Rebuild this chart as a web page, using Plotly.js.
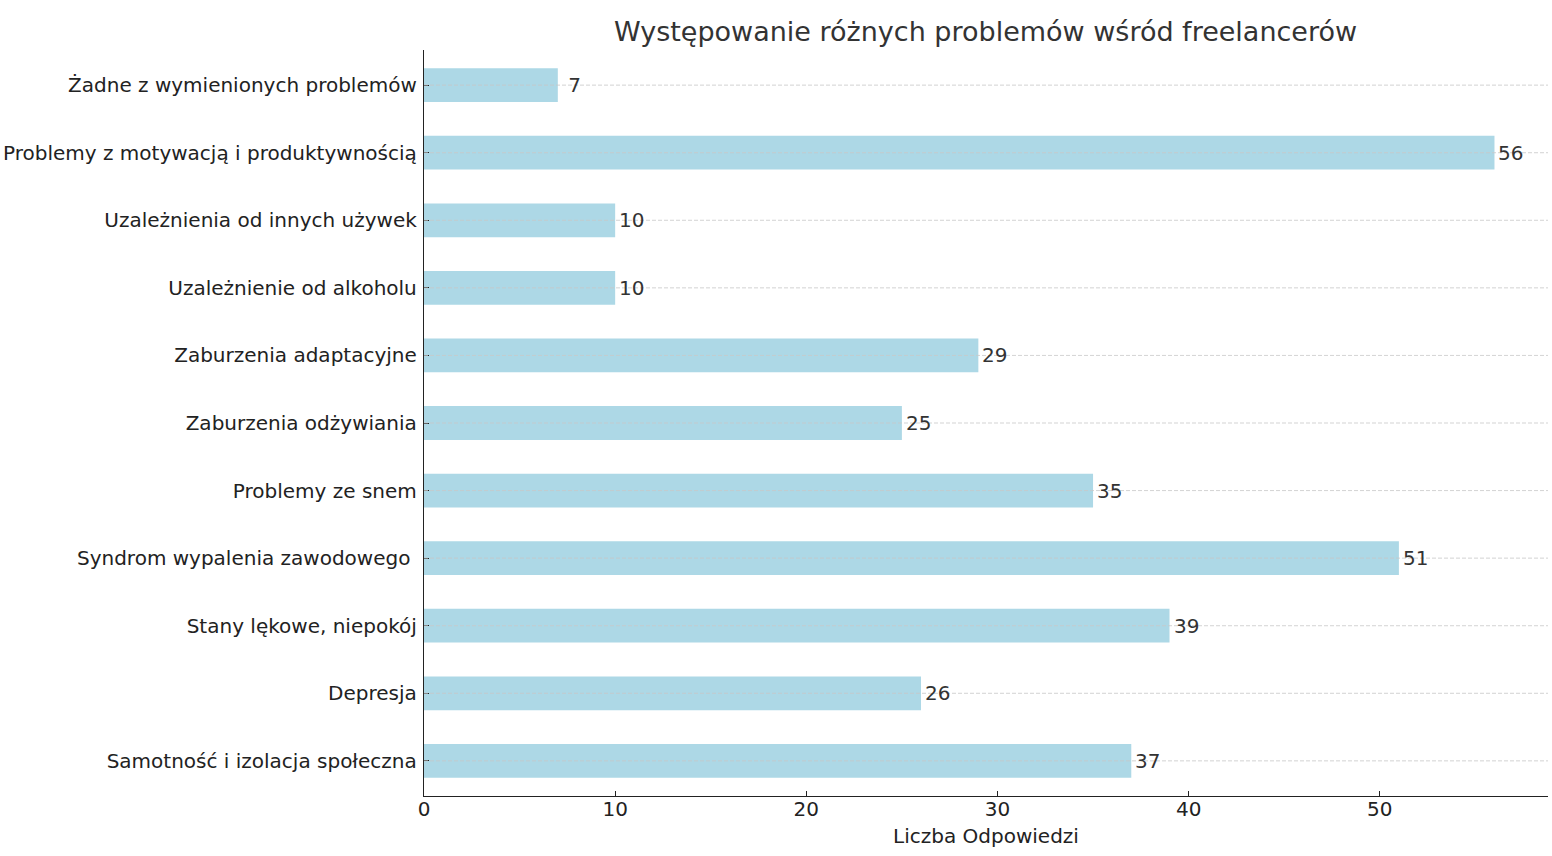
<!DOCTYPE html>
<html>
<head>
<meta charset="utf-8">
<script src="https://cdn.plot.ly/plotly-3.0.1.min.js"></script>
<style>html,body{margin:0;padding:0;background:#fff;}#chart{width:1552px;height:856px;}</style>
</head>
<body>
<div id="chart"></div>
<script>
const categories = [
  "Samotność i izolacja społeczna",
  "Depresja",
  "Stany lękowe, niepokój",
  "Syndrom wypalenia zawodowego ",
  "Problemy ze snem",
  "Zaburzenia odżywiania",
  "Zaburzenia adaptacyjne",
  "Uzależnienie od alkoholu",
  "Uzależnienia od innych używek",
  "Problemy z motywacją i produktywnością",
  "Żadne z wymienionych problemów"
];
const values = [37, 26, 39, 51, 35, 25, 29, 10, 10, 56, 7];
const valueLabels = ["37", "26", "39", "51", "35", "25", "29", "10", "10", "56", "\u00a07"];

const font = "DejaVu Sans, sans-serif";

const trace = {
  type: "bar",
  orientation: "h",
  x: values,
  y: categories.map((c, i) => i),
  width: 0.5,
  marker: { color: "#ADD8E6", line: { width: 0 } },
  hoverinfo: "none"
};

const shapes = categories.map((c, i) => ({
  type: "line", xref: "x domain", yref: "y",
  x0: 0, x1: 1, y0: i, y1: i,
  line: { color: "#c8c8c8", width: 0.8, dash: "4px,2px" },
  layer: "above"
}));

const annotations = values.map((v, i) => ({
  x: v, y: i, xref: "x", yref: "y",
  text: valueLabels[i], showarrow: false,
  xanchor: "left", yanchor: "middle", xshift: 2,
  font: { family: font, size: 20, color: "#333333" }
}));

const layout = {
  width: 1552, height: 856,
  margin: { l: 424, r: 4, t: 50, b: 60 },
  paper_bgcolor: "#ffffff", plot_bgcolor: "#ffffff",
  title: {
    text: "Występowanie różnych problemów wśród freelancerów",
    font: { family: font, size: 27, color: "#333333" },
    x: 0.635, xanchor: "center", y: 0.963, yanchor: "middle"
  },
  xaxis: {
    range: [0, 58.8],
    tickvals: [0, 10, 20, 30, 40, 50],
    ticks: "inside", ticklen: 5, tickcolor: "#222",
    showgrid: false, zeroline: false,
    showline: true, linecolor: "#222", linewidth: 1.2,
    tickfont: { family: font, size: 20, color: "#222" },
    ticklabelstandoff: -5,
    title: { text: "Liczba Odpowiedzi", font: { family: font, size: 20, color: "#222" }, standoff: 8 }
  },
  yaxis: {
    range: [-0.52, 10.52],
    tickvals: categories.map((c, i) => i),
    ticktext: categories,
    ticks: "inside", ticklen: 5, tickcolor: "#222",
    showgrid: false, zeroline: false,
    showline: true, linecolor: "#222", linewidth: 1.2,
    tickfont: { family: font, size: 20, color: "#222" },
    ticklabelstandoff: 2
  },
  shapes: shapes,
  annotations: annotations,
  showlegend: false
};

Plotly.newPlot("chart", [trace], layout, { displayModeBar: false, staticPlot: true });
</script>
</body>
</html>
